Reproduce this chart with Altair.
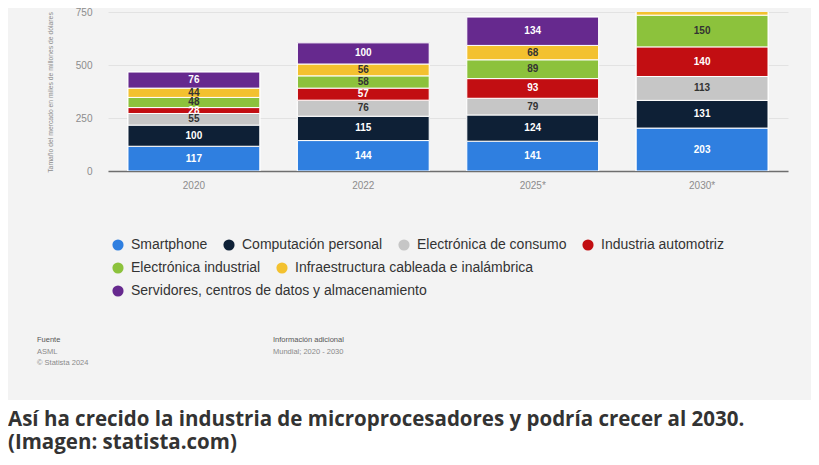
import altair as alt
import pandas as pd

# ---- data ----
years = ["2020", "2022", "2025*", "2030*"]
categories = [
    "Smartphone",
    "Computación personal",
    "Electrónica de consumo",
    "Industria automotriz",
    "Electrónica industrial",
    "Infraestructura cableada e inalámbrica",
    "Servidores, centros de datos y almacenamiento",
]
smartphone = [117, 144, 141, 203]
computacion = [100, 115, 124, 131]
consumo = [55, 76, 79, 113]
automotriz = [28, 57, 93, 140]
industrial = [48, 58, 89, 150]
infraestructura = [44, 56, 68, 100]
servidores = [76, 100, 134, 200]

colors = ["#2f7fe0", "#0e2036", "#c6c6c6", "#c20e12", "#8cc23c", "#f3c12f", "#66298e"]
label_colors = ["#ffffff", "#ffffff", "#333333", "#ffffff", "#333333", "#333333", "#ffffff"]

legend_rows = [categories[0:4], categories[4:6], categories[6:7]]

y_ticks = [0, 250, 500, 750]
y_title = "Tamaño del mercado en miles de millones de dólares"
footer_left = ["Fuente", "ASML", "© Statista 2024"]
footer_right = ["Información adicional", "Mundial; 2020 - 2030"]
caption = ["Así ha crecido la industria de microprocesadores y podría crecer al 2030.",
           "(Imagen: statista.com)"]

series = [smartphone, computacion, consumo, automotriz, industrial, infraestructura, servidores]
rows = []
for i, (cat, vals) in enumerate(zip(categories, series)):
    for y, v in zip(years, vals):
        rows.append({"year": y, "category": cat, "value": v, "idx": i, "lc": label_colors[i]})
df = pd.DataFrame(rows)

W, H = 680, 159
TOP = 4
one = pd.DataFrame({"a": [0]})

xenc = alt.X("year:N", sort=years, title=None,
             scale=alt.Scale(paddingInner=0.222, paddingOuter=0.118),
             axis=alt.Axis(labelAngle=0, labelFontSize=10, labelColor="#8c8c8c",
                           labelFont="Liberation Sans", ticks=False, labelPadding=9,
                           domainColor="#6e6e6e", domainWidth=1.5))
yenc = alt.Y("value:Q", stack="zero",
             scale=alt.Scale(domain=[0, 752], nice=False),
             axis=alt.Axis(values=y_ticks, title=y_title, titleFontSize=6.8,
                           titleFontWeight="normal", titleColor="#8c8c8c",
                           titleFont="Liberation Sans", titleX=-58, titleY=80,
                           titleAngle=270, titleAlign="center", titleBaseline="middle",
                           labelFontSize=10, labelColor="#8c8c8c", labelFont="Liberation Sans",
                           labelPadding=16, ticks=False, domain=False,
                           gridColor="#e2e2e2", gridWidth=1))

base = alt.Chart(df)

def bar_layer(row_vals, ly):
    return base.mark_bar(clip=True, stroke="white", strokeWidth=1).encode(
        x=xenc,
        y=yenc,
        order=alt.Order("idx:Q", sort="ascending"),
        color=alt.Color("category:N", sort=categories,
                        scale=alt.Scale(domain=categories, range=colors),
                        legend=alt.Legend(values=row_vals, orient="none", legendX=3, legendY=ly,
                                          direction="horizontal", title=None,
                                          symbolType="circle", symbolSize=125,
                                          symbolStrokeWidth=0, labelFontSize=14,
                                          labelFont="Liberation Sans", labelColor="#333333",
                                          labelOffset=6, columnPadding=14, padding=0,
                                          labelLimit=400)),
    )

bars1 = bar_layer(legend_rows[0], 230 - TOP)
bars2 = bar_layer(legend_rows[1], 253 - TOP)
bars3 = bar_layer(legend_rows[2], 276 - TOP)

labels = base.transform_window(
    cum="sum(value)", groupby=["year"], sort=[alt.SortField("idx")], frame=[None, 0]
).transform_calculate(mid="datum.cum - datum.value / 2").mark_text(
    clip=True, fontSize=10, fontWeight="bold", font="Liberation Sans", baseline="middle"
).encode(
    x=alt.X("year:N", sort=years),
    y=alt.Y("mid:Q"),
    text=alt.Text("value:Q"),
    color=alt.Color("lc:N", scale=None),
)

caption_bg = alt.Chart(one).mark_rect(fill="white").encode(
    x=alt.value(-100), x2=alt.value(W + 23), y=alt.value(392 - TOP), y2=alt.value(470))

texts = []
for i, t in enumerate(footer_left):
    texts.append(alt.Chart(one).mark_text(
        text=t, align="left", baseline="middle", fontSize=7.5, font="Liberation Sans",
        color="#555555" if i == 0 else "#8a8a8a").encode(
        x=alt.value(-71), y=alt.value(332 - TOP + i * 11.5)))
for i, t in enumerate(footer_right):
    texts.append(alt.Chart(one).mark_text(
        text=t, align="left", baseline="middle", fontSize=7.5, font="Liberation Sans",
        color="#555555" if i == 0 else "#8a8a8a").encode(
        x=alt.value(165), y=alt.value(332 - TOP + i * 11.5)))
for i, t in enumerate(caption):
    texts.append(alt.Chart(one).mark_text(
        text=t, align="left", baseline="alphabetic", fontSize=20.5, font="Open Sans",
        fontWeight="bold", color="#333333").encode(
        x=alt.value(-100), y=alt.value(418 - TOP + i * 23)))

chart = alt.layer(caption_bg, bars1, bars2, bars3, labels, *texts).resolve_scale(
    color="independent"
).properties(
    width=W, height=H,
    padding={"left": 100, "top": TOP, "right": 23, "bottom": 449 - H - TOP},
    autosize=alt.AutoSizeParams(type="none"),
    background="#f3f3f3",
).configure_view(stroke=None)

chart.save("out.html", embed_options={"renderer": "svg", "actions": False})
